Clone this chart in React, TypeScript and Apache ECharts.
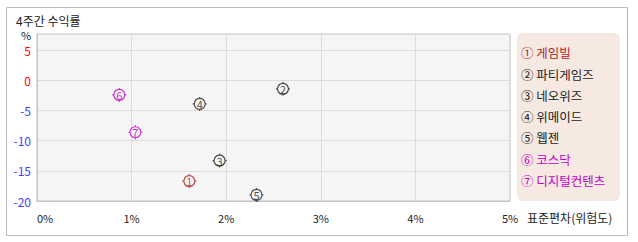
import React, { useEffect, useRef } from "react";
import * as echarts from "echarts";

const names = ["게임빌", "파티게임즈", "네오위즈", "위메이드", "웹젠", "코스닥", "디지털컨텐츠"];
const marks = ["①", "②", "③", "④", "⑤", "⑥", "⑦"];
const digits = ["1", "2", "3", "4", "5", "6", "7"];
const riskPct = [1.61, 2.6, 1.93, 1.72, 2.32, 0.87, 1.04];
const returnPct = [-16.7, -1.4, -13.3, -3.9, -19.0, -2.4, -8.6];
const colors = ["#b22222", "#222222", "#222222", "#222222", "#222222", "#c000c8", "#c000c8"];
const xTicks = [0, 1, 2, 3, 4, 5];
const yTicks = [-20, -15, -10, -5, 0, 5];

const FONT = "'Noto Sans CJK KR', 'Noto Sans', sans-serif";
const symbolPath =
  "path://M7,1.5 A5.5,5.5 0 1,1 6.99,1.5 Z M7,0 L7,1.5 M7,12.5 L7,14 M0,7 L1.5,7 M12.5,7 L14,7";

export default function App() {
  const ref = useRef<HTMLDivElement>(null);
  useEffect(() => {
    if (!ref.current) return;
    const chart = echarts.init(ref.current, undefined, { renderer: "svg" });
    const legendTexts = names.map((n, i) => ({
      type: "text",
      left: 521,
      top: 46.5 + i * 21.3,
      style: {
        text: `${marks[i]} ${n}`,
        fill: colors[i],
        font: `12.5px ${FONT}`,
      },
    }));
    chart.setOption({
      animation: false,
      backgroundColor: "#ffffff",
      textStyle: { fontFamily: FONT },
      title: {
        text: "4주간 수익률",
        left: 16,
        top: 14,
        padding: 0,
        textStyle: { fontSize: 12, fontWeight: "normal", color: "#222", fontFamily: FONT },
      },
      grid: {
        left: 37,
        top: 34,
        width: 473,
        height: 167,
        show: true,
        backgroundColor: "#f5f5f5",
        borderColor: "#c4c4c4",
        borderWidth: 1,
      },
      xAxis: {
        type: "value",
        min: xTicks[0],
        max: xTicks[xTicks.length - 1],
        interval: 1,
        name: "표준편차(위험도)",
        nameLocation: "end",
        nameGap: 17,
        nameTextStyle: {
          fontSize: 12,
          color: "#222",
          verticalAlign: "top",
          padding: [10, 0, 0, 0],
          fontFamily: FONT,
        },
        axisLine: { onZero: false, lineStyle: { color: "#c4c4c4" } },
        axisTick: { show: false },
        splitLine: { lineStyle: { color: "#dcdcdc" } },
        axisLabel: {
          formatter: (v: number) => `${v}%`,
          fontSize: 11,
          color: "#222",
          margin: 11,
          alignMinLabel: "left",
          fontFamily: FONT,
        },
      },
      yAxis: {
        type: "value",
        min: yTicks[0],
        max: 7.7,
        interval: 5,
        axisLine: { show: true, onZero: false, lineStyle: { color: "#c4c4c4" } },
        axisTick: { show: false },
        splitLine: { lineStyle: { color: "#dcdcdc" } },
        axisLabel: {
          showMaxLabel: false,
          formatter: (v: number) => (yTicks.includes(v) ? `${v}` : ""),
          fontSize: 12,
          margin: 6,
          color: (v: any) => (Number(v) >= 0 ? "#ff0000" : "#4040ff"),
          fontFamily: FONT,
        },
      },
      graphic: [
        {
          type: "rect",
          z: -10,
          shape: { x: 6.5, y: 7.5, width: 621, height: 228 },
          style: { fill: "#ffffff", stroke: "#bcbcbc", lineWidth: 1 },
        },
        {
          type: "text",
          left: 21,
          top: 29.5,
          style: { text: "%", fill: "#222", font: `11px ${FONT}` },
        },
        {
          type: "rect",
          shape: { x: 517, y: 33, width: 103, height: 168, r: 6 },
          style: { fill: "#f5e9e2" },
        },
        ...legendTexts,
      ],
      series: [
        {
          type: "scatter",
          symbol: symbolPath,
          symbolSize: 14,
          data: riskPct.map((x, i) => ({
            value: [x, returnPct[i]],
            itemStyle: { color: "rgba(0,0,0,0)", borderColor: colors[i], borderWidth: 1.2 },
            label: { color: colors[i] },
          })),
          label: {
            show: true,
            position: "inside",
            fontSize: 11,
            fontFamily: FONT,
            formatter: (p: any) => digits[p.dataIndex],
          },
        },
      ],
    });
    return () => chart.dispose();
  }, []);
  return (
    <div
      ref={ref}
      style={{ position: "fixed", left: 0, top: 0, width: 638, height: 242 }}
    />
  );
}
